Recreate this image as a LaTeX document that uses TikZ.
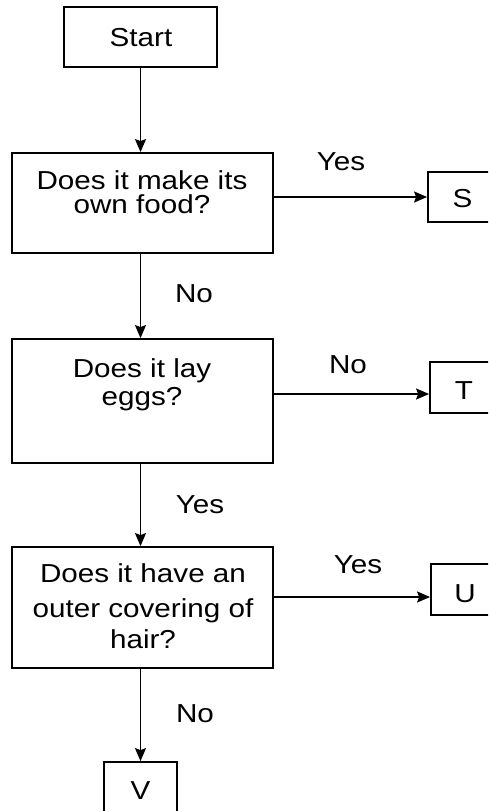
\documentclass[tikz,border=0pt]{standalone}
\usepackage{fontspec}
\setmainfont[FakeStretch=1.14]{Liberation Sans}
\usetikzlibrary{arrows.meta}

\begin{document}
\begin{tikzpicture}[
  x=1pt, y=-1pt,
  font=\fontsize{26}{30}\selectfont,
  box/.style={draw, line width=1.8pt, inner sep=0pt},
  txt/.style={anchor=base, inner sep=0pt},
  arr/.style={line width=1.5pt, -{Stealth[length=13pt,width=11pt,inset=2pt]}},
]
\clip (0,0) rectangle (488,811);

% boxes
\node[box, minimum width=153pt, minimum height=60pt]  (start) at (140.5,37)  {};
\node[box, minimum width=261pt, minimum height=100pt] (q1)    at (142.5,203) {};
\node[box, minimum width=261pt, minimum height=124pt] (q2)    at (142.5,401) {};
\node[box, minimum width=261pt, minimum height=121pt] (q3)    at (142.5,607.5) {};
\node[box, minimum width=69pt,  minimum height=50pt]  (S)     at (462.5,197) {};
\node[box, minimum width=68pt,  minimum height=51pt]  (T)     at (464,387.5) {};
\node[box, minimum width=68pt,  minimum height=51pt]  (U)     at (465,589.5) {};
\node[box, minimum width=73pt,  minimum height=60pt]  (V)     at (140.5,792) {};

% box texts
\node[txt] (tstart) at (141,46)   {Start};
\node[txt] (t1a)    at (142,189)  {Does it make its};
\node[txt] (t1b)    at (142,213)  {own food?};
\node[txt] (t2a)    at (142,377)  {Does it lay};
\node[txt] (t2b)    at (142,405)  {eggs?};
\node[txt] (t3a)    at (143,582)  {Does it have an};
\node[txt] (t3b)    at (143,617)  {outer covering of};
\node[txt] (t3c)    at (143,648)  {hair?};
\node[txt] (tS)     at (462.5,207) {S};
\node[txt] (tT)     at (464,399)  {T};
\node[txt] (tU)     at (465,602)  {U};
\node[txt] (tV)     at (140.5,799) {V};

% branch labels
\node[txt] (l1) at (341,170) {Yes};
\node[txt] (l2) at (194,302) {No};
\node[txt] (l3) at (348,373) {No};
\node[txt] (l4) at (200,513) {Yes};
\node[txt] (l5) at (358,573) {Yes};
\node[txt] (l6) at (195,722) {No};

% entry points on the right-hand boxes
\coordinate (sin) at (S.west);
\coordinate (tin) at ([yshift=-6.5pt]T.west);
\coordinate (uin) at ([yshift=-7.5pt]U.west);

% connectors
\draw[arr] (start.south) -- (start.south |- q1.north);
\draw[arr] (q1.south -| start.south) -- (q2.north -| start.south);
\draw[arr] (q2.south -| start.south) -- (q3.north -| start.south);
\draw[arr] (q3.south -| start.south) -- (V.north);
\draw[arr] (q1.east |- sin) -- (sin);
\draw[arr] (q2.east |- tin) -- (tin);
\draw[arr] (q3.east |- uin) -- (uin);
\end{tikzpicture}
\end{document}
